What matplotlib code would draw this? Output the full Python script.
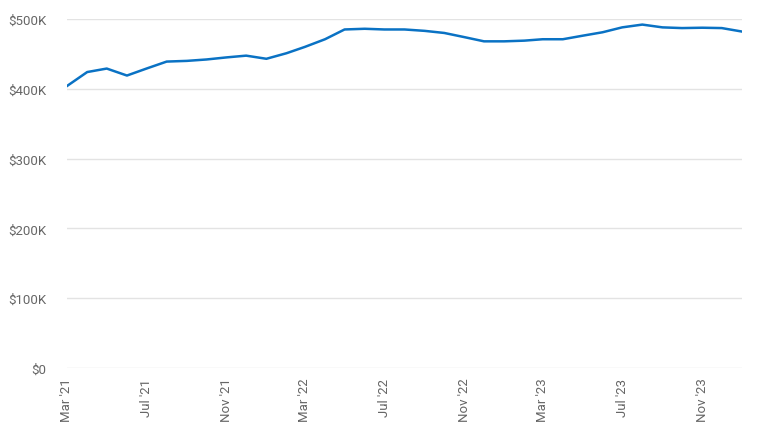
import pandas as pd
import matplotlib
matplotlib.use("Agg")
import matplotlib.pyplot as plt
import matplotlib.dates as mdates
from matplotlib.ticker import FuncFormatter

# Monthly values, Mar 2021 -> Jan 2024 (in thousands of dollars)
months = pd.date_range("2021-03-01", "2024-01-01", freq="MS")
values_k = [404, 424, 429, 419, 429, 439, 440, 442, 445, 447.5,
            443, 451, 460, 471, 485, 486, 485, 485, 483, 480,
            474, 468, 468, 469, 471, 471, 476, 481, 488, 492,
            488, 487, 487.5, 487, 482]
tick_months = pd.date_range("2021-03-01", "2023-11-01", freq="4MS")

plt.rcParams['font.family'] = ['Roboto', 'DejaVu Sans']

fig = plt.figure(figsize=(7.64, 4.27), dpi=100)
ax = fig.add_axes([67 / 764, 1 - 369 / 427, 675 / 764, 349 / 427])

ax.plot(months, [v * 1000 for v in values_k], color='#0a72c4', linewidth=1.8)

ax.set_xlim(months[0], months[-1])
ax.set_ylim(0, 500000)
ax.set_yticks(range(0, 500001, 100000))
ax.yaxis.set_major_formatter(FuncFormatter(lambda v, p: "$0" if v == 0 else f"${int(v / 1000)}K"))

ax.set_xticks(tick_months)
ax.xaxis.set_major_formatter(mdates.DateFormatter("%b '%y"))
plt.setp(ax.get_xticklabels(), rotation=90)

ax.grid(axis='y', color='#e3e3e3', linewidth=1)
ax.set_axisbelow(True)
for s in ax.spines.values():
    s.set_visible(False)
ax.tick_params(axis='both', length=0, labelsize=9.5, labelcolor='#666666')
ax.tick_params(axis='y', pad=15)
ax.tick_params(axis='x', pad=7)

fig.savefig("out.png", dpi=100)
